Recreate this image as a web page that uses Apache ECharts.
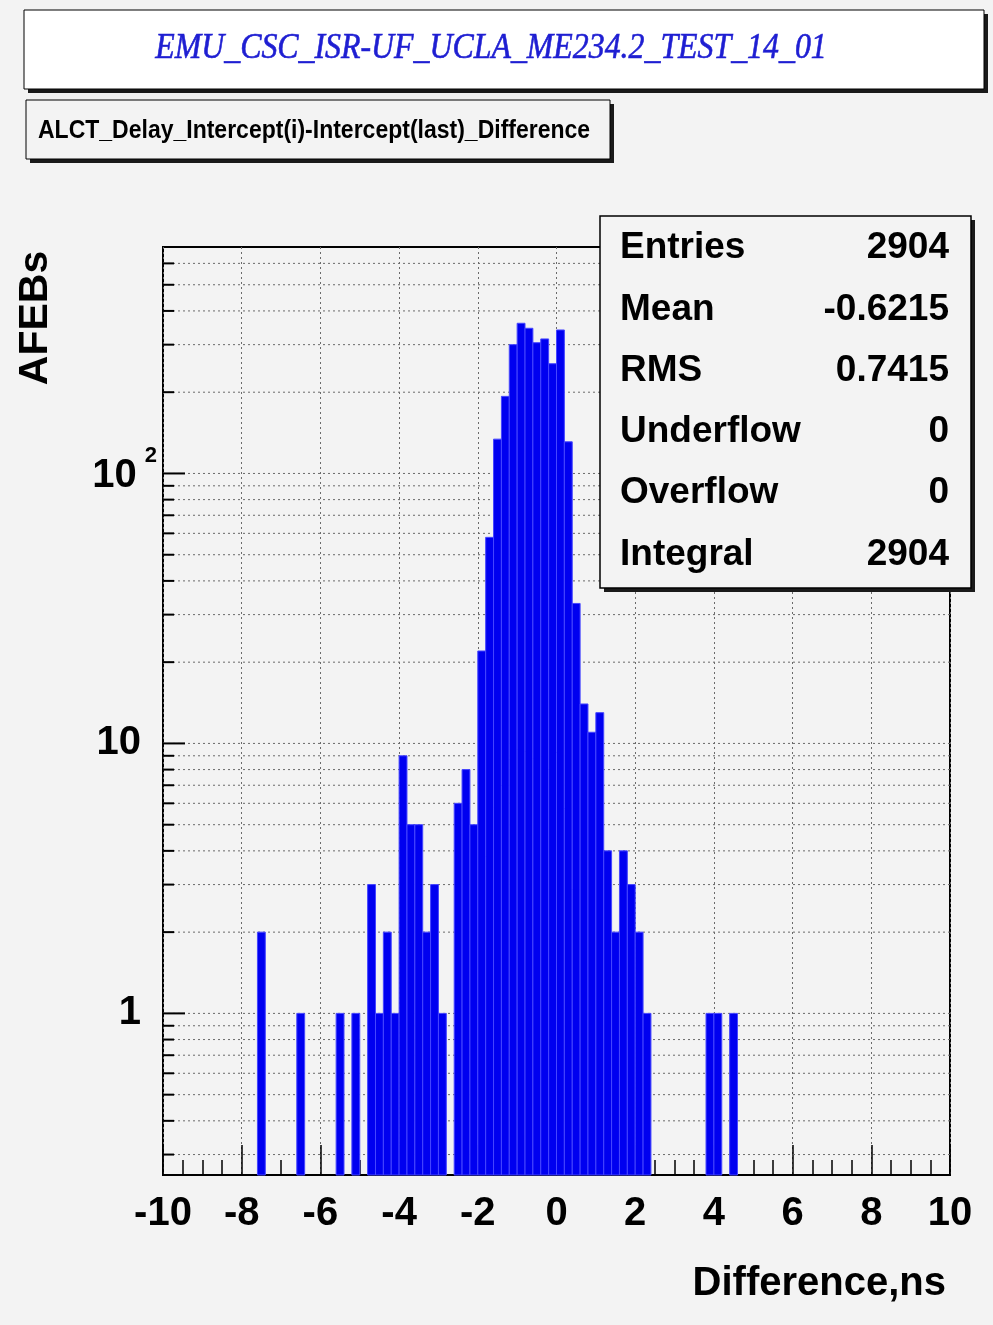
<!DOCTYPE html>
<html>
<head>
<meta charset="utf-8">
<title>ALCT_Delay_Intercept(i)-Intercept(last)_Difference</title>
<script src="https://cdn.jsdelivr.net/npm/echarts@6/dist/echarts.min.js"></script>
<style>
  html, body { margin: 0; padding: 0; background: #f3f3f3; }
  #chart { width: 993px; height: 1325px; }
</style>
</head>
<body>
<div id="chart"></div>
<script>
// Histogram binning: 100 bins of 0.2 ns from -10 to 10
const binLow = -10;
const binWidth = 0.2;
const binCounts = [
  0, 0, 0, 0, 0, 0, 0, 0, 0, 0,      // -10.0 .. -8.2
  0, 0, 2, 0, 0, 0, 0, 1, 0, 0,      //  -8.0 .. -6.2
  0, 0, 1, 0, 1, 0, 3, 1, 2, 1,      //  -6.0 .. -4.2
  9, 5, 5, 2, 3, 1, 0, 6, 8, 5,      //  -4.0 .. -2.2
  22, 58, 134, 193, 300, 360, 345, 305, 315, 255, // -2.0 .. -0.2
  340, 131, 33, 14, 11, 13, 4, 2, 4, 3,           //  0.0 ..  1.8
  2, 1, 0, 0, 0, 0, 0, 0, 0, 1,      //   2.0 ..  3.8
  1, 0, 1, 0, 0, 0, 0, 0, 0, 0,      //   4.0 ..  5.8
  0, 0, 0, 0, 0, 0, 0, 0, 0, 0,      //   6.0 ..  7.8
  0, 0, 0, 0, 0, 0, 0, 0, 0, 0       //   8.0 ..  9.8
];

// Axis ranges
const xRange = [-10, 10];
const xStep = 2;
const yRange = [0.252, 690];

// Log-axis grid levels (1..9 x 10^n) and the labelled decades
const yGridLevels = [0.3, 0.4, 0.5, 0.6, 0.7, 0.8, 0.9,
  1, 2, 3, 4, 5, 6, 7, 8, 9,
  10, 20, 30, 40, 50, 60, 70, 80, 90,
  100, 200, 300, 400, 500, 600];
const yDecades = [1, 10, 100];

// Statistics box rows
const statNames = ['Entries', 'Mean', 'RMS', 'Underflow', 'Overflow', 'Integral'];
const statValues = ['2904', '-0.6215', '0.7415', '0', '0', '2904'];

const canvasTitle = 'EMU_CSC_ISR-UF_UCLA_ME234.2_TEST_14_01';
const histTitle = 'ALCT_Delay_Intercept(i)-Intercept(last)_Difference';
const xTitle = 'Difference,ns';
const yTitle = 'AFEBs';

const FONT = '"Liberation Sans", Arial, Helvetica, sans-serif';
const BG = '#f3f3f3';

// Non-empty bins as [low edge, high edge, count]
const histData = [];
binCounts.forEach((c, i) => {
  if (c > 0) {
    const lo = +(binLow + i * binWidth).toFixed(4);
    histData.push([lo, +(lo + binWidth).toFixed(4), c]);
  }
});

const chart = echarts.init(document.getElementById('chart'), null, { renderer: 'canvas' });

function near(a, b) { return Math.abs(a - b) < 1e-6 * Math.max(1, Math.abs(b)); }

const statGraphics = [];
statNames.forEach((name, i) => {
  const y = 248 + i * 61.3;
  statGraphics.push({
    type: 'text', x: 620, y: y, z: 102,
    style: { text: name, font: 'bold 37px ' + FONT, fill: '#000', textAlign: 'left', textVerticalAlign: 'middle', verticalAlign: 'middle' }
  });
  statGraphics.push({
    type: 'text', x: 949, y: y, z: 102,
    style: { text: statValues[i], font: 'bold 37px ' + FONT, fill: '#000', textAlign: 'right', textVerticalAlign: 'middle', verticalAlign: 'middle' }
  });
});

const option = {
  animation: false,
  backgroundColor: BG,
  grid: {
    left: 163, top: 247, width: 787, height: 928,
    show: true, borderColor: '#000', borderWidth: 2, backgroundColor: 'transparent'
  },
  xAxis: {
    type: 'value',
    min: xRange[0], max: xRange[1], interval: xStep,
    axisLine: { show: false },
    axisTick: { show: true, inside: true, length: 30, lineStyle: { color: '#000', width: 1.5 } },
    minorTick: { show: true, splitNumber: 4, length: 15, lineStyle: { color: '#000', width: 1.5 } },
    splitLine: { show: true, lineStyle: { color: '#6a6a6a', width: 1, type: [2, 3] } },
    axisLabel: { color: '#000', fontSize: 40, fontWeight: 'bold', fontFamily: FONT, margin: 19 }
  },
  yAxis: {
    type: 'log', logBase: 10,
    min: yRange[0], max: yRange[1],
    axisLine: { show: false },
    axisTick: { show: false },
    splitLine: { show: false },
    axisLabel: {
      color: '#000', fontFamily: FONT, fontWeight: 'bold', fontSize: 40, margin: 6,
      formatter: function (v) {
        if (near(v, 1)) return '{p|1}';
        if (near(v, 10)) return '{p|10}';
        if (near(v, 100)) return '{n|10}{s|2}';
        return '';
      },
      rich: {
        p: { fontSize: 40, fontWeight: 'bold', fontFamily: FONT, color: '#000', padding: [0, 16, 0, 0] },
        n: { fontSize: 40, fontWeight: 'bold', fontFamily: FONT, color: '#000', lineHeight: 60, verticalAlign: 'middle', padding: [6, 0, 0, 0] },
        s: { fontSize: 22, fontWeight: 'bold', fontFamily: FONT, color: '#000', lineHeight: 24, verticalAlign: 'middle', padding: [0, 0, 36, 8] }
      }
    }
  },
  series: [
    {
      // dotted horizontal grid and left-edge ticks of the log axis
      type: 'custom',
      z: 1,
      silent: true,
      data: yGridLevels.map(v => [xRange[0], v]),
      encode: { x: 0, y: 1 },
      renderItem: function (params, api) {
        const v = api.value(1);
        const a = api.coord([xRange[0], v]);
        const b = api.coord([xRange[1], v]);
        const major = yDecades.some(d => near(d, v));
        return {
          type: 'group',
          children: [
            { type: 'line', shape: { x1: a[0], y1: a[1], x2: b[0], y2: b[1] },
              style: { stroke: '#6a6a6a', lineWidth: 1, lineDash: [2, 3] } },
            { type: 'line', shape: { x1: a[0], y1: a[1], x2: a[0] + (major ? 22 : 11), y2: a[1] },
              style: { stroke: '#000', lineWidth: 2 } }
          ]
        };
      }
    },
    {
      // histogram bars
      type: 'custom',
      z: 5,
      silent: true,
      data: histData,
      encode: { x: [0, 1], y: 2 },
      renderItem: function (params, api) {
        const p0 = api.coord([api.value(0), api.value(2)]);
        const p1 = api.coord([api.value(1), yRange[0]]);
        return {
          type: 'rect',
          shape: { x: p0[0], y: p0[1], width: p1[0] - p0[0], height: p1[1] - p0[1] },
          style: { fill: '#0000f0', stroke: '#4646ff', lineWidth: 1 }
        };
      }
    }
  ],
  graphic: [
    // canvas title pave
    { type: 'rect', z: 100, shape: { x: 28, y: 14, width: 960, height: 79 }, style: { fill: '#1a1a1a' } },
    { type: 'rect', z: 101, shape: { x: 24, y: 10, width: 960, height: 79 }, style: { fill: '#ffffff', stroke: '#000', lineWidth: 1 } },
    { type: 'text', z: 102, x: 491, y: 49, scaleX: 0.91,
      style: { text: canvasTitle, font: 'italic 35px "Liberation Serif", "Times New Roman", serif', fill: '#1e1ed2',
               textAlign: 'center', textVerticalAlign: 'middle', verticalAlign: 'middle',
               stroke: '#1e1ed2', lineWidth: 0.6 } },
    // histogram title pave
    { type: 'rect', z: 100, shape: { x: 30, y: 104, width: 584, height: 59 }, style: { fill: '#1a1a1a' } },
    { type: 'rect', z: 101, shape: { x: 26, y: 100, width: 584, height: 59 }, style: { fill: BG, stroke: '#000', lineWidth: 1 } },
    { type: 'text', z: 102, x: 38, y: 131, scaleX: 0.92,
      style: { text: histTitle, font: 'bold 25px ' + FONT, fill: '#000', textAlign: 'left', textVerticalAlign: 'middle', verticalAlign: 'middle' } },
    // statistics pave
    { type: 'rect', z: 100, shape: { x: 604, y: 220, width: 371, height: 372 }, style: { fill: '#1a1a1a' } },
    { type: 'rect', z: 101, shape: { x: 600, y: 216, width: 371, height: 372 }, style: { fill: BG, stroke: '#000', lineWidth: 1.5 } },
    ...statGraphics,
    // axis titles
    { type: 'text', z: 102, x: 946, y: 1284,
      style: { text: xTitle, font: 'bold 40px ' + FONT, fill: '#000', textAlign: 'right', textVerticalAlign: 'middle', verticalAlign: 'middle' } },
    { type: 'text', z: 102, x: 36, y: 318, rotation: Math.PI / 2,
      style: { text: yTitle, font: 'bold 41px ' + FONT, fill: '#000', textAlign: 'center', textVerticalAlign: 'middle', verticalAlign: 'middle' } }
  ]
};

chart.setOption(option);
</script>
</body>
</html>
